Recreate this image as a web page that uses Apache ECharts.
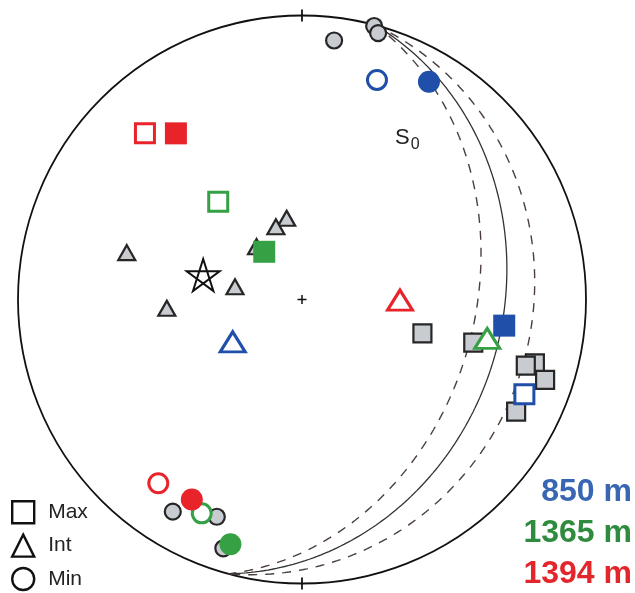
<!DOCTYPE html>
<html><head><meta charset="utf-8">
<script src="https://cdn.jsdelivr.net/npm/echarts@6/dist/echarts.min.js"></script>
<style>html,body{margin:0;padding:0;background:#fff}#c{width:635px;height:593px}</style>
</head><body><div id="c"></div>
<script>
// ---- data (equal-area, lower hemisphere; x = east, y = north, unit = primitive radius) ----
const depthLabels = ['850 m', '1365 m', '1394 m'];
const legendLabels = ['Max', 'Int', 'Min'];
const maxOpen   = [[0.783, -0.334], [-0.295, 0.344], [-0.553, 0.585]];
const maxFilled = [[0.712, -0.092], [-0.133, 0.168], [-0.444, 0.585]];
const intOpen   = [[-0.244, -0.149], [0.652, -0.137], [0.345, -0.002]];
const minOpen   = [[0.264, 0.773], [-0.353, -0.753], [-0.506, -0.647]];
const minFilled = [[0.447, 0.767], [-0.252, -0.862], [-0.388, -0.704]];
const grayMax = [[0.424, -0.119], [0.603, -0.152], [0.820, -0.225], [0.788, -0.233], [0.856, -0.283], [0.754, -0.395]];
const grayInt = [[-0.054, 0.286], [-0.092, 0.256], [-0.160, 0.186], [-0.617, 0.165], [-0.236, 0.045], [-0.476, -0.031]];
const grayMin = [[0.113, 0.912], [0.254, 0.963], [0.268, 0.938], [-0.455, -0.747], [-0.300, -0.765], [-0.277, -0.876]];
const starPole = [[-0.348, 0.086]];
// bedding planes S0 (strike, right-hand rule, and dip)
const beddingStrike = [15, 15, 15];
const beddingDip = [39, 30, 20];
const beddingDashed = [true, false, true];

// ---- styles ----
const depthColors = ['#1f4fa8', '#36a045', '#e8232a'];
const depthTextColors = ['#3866b3', '#2f8b3e', '#e3262b'];
const FONT = '"Liberation Sans", Arial, Helvetica, sans-serif';

function greatCircle(strike, dip) {
  const r = Math.PI / 180, pts = [];
  const s = [Math.sin(strike * r), Math.cos(strike * r), 0];
  const dd = (strike + 90) * r;
  const d = [Math.cos(dip * r) * Math.sin(dd), Math.cos(dip * r) * Math.cos(dd), Math.sin(dip * r)];
  for (let b = 0; b <= 180; b += 1) {
    const cb = Math.cos(b * r), sb = Math.sin(b * r);
    const v = [cb * s[0] + sb * d[0], cb * s[1] + sb * d[1], cb * s[2] + sb * d[2]];
    const plunge = Math.asin(Math.max(-1, Math.min(1, v[2])));
    const trend = Math.atan2(v[0], v[1]);
    const rad = Math.SQRT2 * Math.sin((Math.PI / 2 - plunge) / 2);
    pts.push([rad * Math.sin(trend), rad * Math.cos(trend)]);
  }
  return pts;
}

const series = [];
series.push({
  type: 'custom', silent: true, z: 1, clip: false, data: [[0, 0]],
  renderItem: function (params, api) {
    const c = api.coord([0, 0]);
    const R = api.size([1, 1])[0];
    const st = { stroke: '#111', lineWidth: 1.8 };
    return { type: 'group', children: [
      { type: 'circle', shape: { cx: c[0], cy: c[1], r: R }, style: { fill: 'none', stroke: '#111', lineWidth: 1.8 } },
      { type: 'line', shape: { x1: c[0], y1: c[1] - R - 6, x2: c[0], y2: c[1] - R + 6 }, style: st },
      { type: 'line', shape: { x1: c[0], y1: c[1] + R - 6, x2: c[0], y2: c[1] + R + 6 }, style: st },
      { type: 'line', shape: { x1: c[0] - 4.5, y1: c[1], x2: c[0] + 4.5, y2: c[1] }, style: { stroke: '#111', lineWidth: 1.5 } },
      { type: 'line', shape: { x1: c[0], y1: c[1] - 4.5, x2: c[0], y2: c[1] + 4.5 }, style: { stroke: '#111', lineWidth: 1.5 } }
    ] };
  }
});
beddingStrike.forEach(function (s, i) {
  series.push({
    type: 'line', silent: true, z: 2, symbol: 'none', data: greatCircle(s, beddingDip[i]),
    lineStyle: beddingDashed[i] ? { color: '#4a3f3c', width: 1.4, type: [9, 8] } : { color: '#333', width: 1.3 }
  });
});
const grayStyle = { color: '#c8cbd0', borderColor: '#262626', borderWidth: 2.2, opacity: 1 };
series.push({ name: 'Int', type: 'scatter', z: 3, symbol: 'triangle', symbolSize: [17, 15], itemStyle: grayStyle, data: grayInt });
series.push({ name: 'Max', type: 'scatter', z: 3, symbol: 'rect', symbolSize: 18, itemStyle: grayStyle, data: grayMax });
series.push({ name: 'Min', type: 'scatter', z: 3, symbol: 'circle', symbolSize: 16, itemStyle: grayStyle, data: grayMin });
depthLabels.forEach(function (lab, i) {
  const col = depthColors[i];
  const open = { color: '#fff', borderColor: col, borderWidth: 3, opacity: 1 };
  const fill = { color: col, borderColor: col, borderWidth: 0, opacity: 1 };
  series.push({
    name: lab, type: 'scatter', z: 4,
    data: [
      { value: maxOpen[i], symbol: 'rect', symbolSize: 19, itemStyle: open },
      { value: maxFilled[i], symbol: 'rect', symbolSize: 22, itemStyle: fill },
      { value: intOpen[i], symbol: 'triangle', symbolSize: [25, 20], itemStyle: open },
      { value: minOpen[i], symbol: 'circle', symbolSize: 19, itemStyle: open },
      { value: minFilled[i], symbol: 'circle', symbolSize: 22, itemStyle: fill }
    ]
  });
});
series.push({
  name: 'pole', type: 'scatter', z: 5, data: starPole,
  symbol: 'path://M50 0 L79.39 90.45 L2.45 34.55 L97.55 34.55 L20.61 90.45 Z',
  symbolSize: [33, 32], itemStyle: { color: 'none', borderColor: '#111', borderWidth: 2, opacity: 1 }
});

const chart = echarts.init(document.getElementById('c'), null, { renderer: 'canvas' });
chart.setOption({
  animation: false,
  backgroundColor: '#fff',
  grid: { left: 18, top: 15.5, width: 568, height: 568 },
  xAxis: { type: 'value', min: -1, max: 1, show: false },
  yAxis: { type: 'value', min: -1, max: 1, show: false },
  legend: {
    orient: 'vertical', left: 11, top: 500, height: 120, padding: 0, itemWidth: 22, itemHeight: 22, itemGap: 9,
    selectedMode: false,
    textStyle: { fontSize: 21, lineHeight: 22, color: '#222', fontFamily: FONT, padding: [0, 0, 0, 9] },
    data: legendLabels.map(function (n, i) {
      return { name: n, icon: ['rect', 'triangle', 'circle'][i],
        itemStyle: { color: '#fff', borderColor: '#111', borderWidth: 2.4 } };
    })
  },
  graphic: depthLabels.map(function (t, i) {
    return { type: 'text', right: 3, top: [476, 517, 558][i], silent: true,
      style: { text: t, font: 'bold 32px ' + FONT, fill: depthTextColors[i] } };
  }).concat([{
    type: 'text', left: 395, top: 127, silent: true,
    style: { text: 'S{sub|0}', font: '22px ' + FONT, fill: '#222',
      rich: { sub: { fontSize: 16, fontFamily: FONT, fill: '#222', padding: [14, 0, 0, 1] } } }
  }]),
  series: series
});
</script></body></html>
